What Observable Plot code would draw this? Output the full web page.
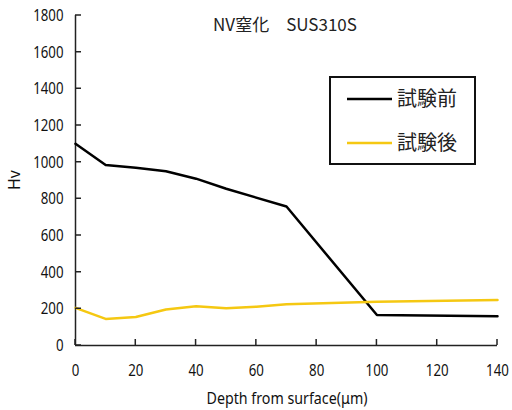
<!DOCTYPE html>
<html><head><meta charset="utf-8">
<script src="https://cdn.jsdelivr.net/npm/d3@7"></script>
<script src="https://cdn.jsdelivr.net/npm/@observablehq/plot@0.6"></script>
<style>
body{margin:0;background:#fff;}
#chart{position:relative;width:512px;height:410px;}
</style>
</head><body><div id="chart"></div>
<script>
const title = "NV窒化　SUS310S";
const xLabel = "Depth from surface(μm)";
const yLabel = "Hv";
const seriesNames = ["試験前", "試験後"];
const seriesColors = ["#000000", "#f5c812"];
const beforeDepth = [0, 10, 20, 30, 40, 50, 70, 100, 140];
const beforeHv = [1100, 985, 970, 950, 910, 855, 758, 166, 160];
const afterDepth = [0, 10, 20, 30, 40, 50, 60, 70, 100, 140];
const afterHv = [205, 145, 155, 196, 214, 203, 212, 225, 238, 248];
const xTicks = [0, 20, 40, 60, 80, 100, 120, 140];
const yTicks = [0, 200, 400, 600, 800, 1000, 1200, 1400, 1600, 1800];

const data = [
  ...beforeDepth.map((d, i) => ({depth: d, hv: beforeHv[i], s: seriesNames[0]})),
  ...afterDepth.map((d, i) => ({depth: d, hv: afterHv[i], s: seriesNames[1]}))
];

const W = 512, H = 410, ML = 75, MR = 15, MT = 15, MB = 65, TICK = 6;
const fmt = d => String(d);

const chart = Plot.plot({
  width: W, height: H,
  marginLeft: ML, marginRight: MR, marginTop: MT, marginBottom: MB,
  x: {domain: [0, 140]},
  y: {domain: [0, 1800]},
  color: {domain: seriesNames, range: seriesColors},
  style: {fontSize: "17px", color: "#111", fontFamily: "'Noto Sans',sans-serif"},
  marks: [
    Plot.axisX({ticks: xTicks, tickSize: 0, tickPadding: 18, tickFormat: fmt, label: null, fontSize: 17}),
    Plot.axisY({ticks: yTicks, tickSize: 0, tickPadding: 12, tickFormat: fmt, label: null, fontSize: 17}),
    Plot.ruleX([0], {stroke: "#222", strokeWidth: 1.5}),
    Plot.ruleY([0], {stroke: "#222", strokeWidth: 1.5}),
    Plot.line(data, {x: "depth", y: "hv", z: "s", stroke: "s", strokeWidth: 2.5})
  ]
});
document.getElementById("chart").appendChild(chart);

const svg = d3.select(chart);
const xs = chart.scale("x"), ys = chart.scale("y");

// condense tick labels to mimic the narrow gothic digits
svg.selectAll("g[aria-label='x-axis tick label'] text, g[aria-label='y-axis tick label'] text")
  .each(function() {
    const w = this.getComputedTextLength();
    this.setAttribute("textLength", (w * 0.78).toFixed(1));
    this.setAttribute("lengthAdjust", "spacingAndGlyphs");
  });

// inward tick marks, positioned by Plot's scales
const tickPath = [];
const y0 = ys.apply(0), x0 = xs.apply(0);
xTicks.forEach(v => { const x = xs.apply(v); tickPath.push(`M${x},${y0}V${y0 - TICK}`); });
yTicks.forEach(v => { const y = ys.apply(v); tickPath.push(`M${x0},${y}H${x0 + TICK}`); });
svg.append("path").attr("d", tickPath.join(""))
  .attr("fill", "none").attr("stroke", "#222").attr("stroke-width", 1.5);

svg.append("text").text(title).attr("x", 285).attr("y", 31)
  .attr("text-anchor", "middle").attr("font-size", 17)
  .attr("font-family", "'Noto Sans CJK JP',sans-serif").attr("fill", "#222");
svg.append("text").text(xLabel).attr("x", 287).attr("y", 404)
  .attr("text-anchor", "middle").attr("font-size", 17).attr("fill", "#111")
  .attr("textLength", 161).attr("lengthAdjust", "spacingAndGlyphs");
svg.append("text").text(yLabel).attr("transform", "translate(20,180) rotate(-90)")
  .attr("text-anchor", "middle").attr("font-size", 16).attr("fill", "#111");

const lg = svg.append("g");
lg.append("rect").attr("x", 330).attr("y", 77).attr("width", 145).attr("height", 87)
  .attr("fill", "#fff").attr("stroke", "#111").attr("stroke-width", 2);
seriesNames.forEach((n, i) => {
  const y = 99 + i * 44;
  lg.append("line").attr("x1", 347).attr("x2", 392).attr("y1", y).attr("y2", y)
    .attr("stroke", seriesColors[i]).attr("stroke-width", 2.5);
  lg.append("text").text(n).attr("x", 397).attr("y", y + 7).attr("font-size", 20)
    .attr("text-anchor", "start")
    .attr("font-family", "'Noto Sans CJK JP',sans-serif").attr("fill", "#222");
});
</script></body></html>
